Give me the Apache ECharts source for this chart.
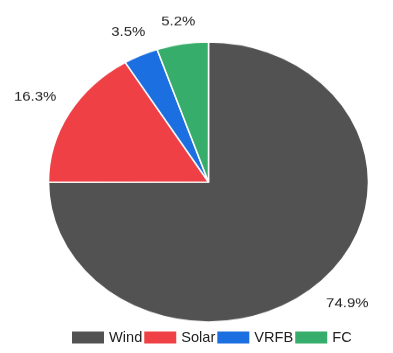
<!DOCTYPE html>
<html>
<head>
<meta charset="utf-8">
<script src="https://cdn.jsdelivr.net/npm/echarts@6/dist/echarts.min.js"></script>
<style>
	html, body { margin: 0; padding: 0; background: #ffffff; }
	#wrap { position: relative; width: 393px; height: 353px; overflow: hidden; }
	/* pie drawn round, then squashed to the ellipse of the picture */
	#pie { position: absolute; left: 0; top: 0; width: 393px; height: 403.43px;
		transform: scaleY(0.875); transform-origin: 0 0; }
	#legend { position: absolute; left: 0; top: 0; width: 393px; height: 353px; }
</style>
</head>
<body>
<div id="wrap">
	<div id="pie"></div>
	<div id="legend"></div>
</div>
<script>
	// data
	var names = ['Wind', 'Solar', 'VRFB', 'FC'];
	var shares = [74.9, 16.3, 3.5, 5.2];
	var colors = ['#525252', '#ef4145', '#1b6fe0', '#37ad6b'];

	var pieData = names.map(function (n, i) {
		return { name: n, value: shares[i] };
	});

	var cx = 208.5, cy = 208;

	var pieChart = echarts.init(document.getElementById('pie'));
	pieChart.setOption({
		animation: false,
		color: colors,
		series: [{
			type: 'pie',
			silent: true,
			center: [cx, cy],
			radius: [0, 160],
			startAngle: 90,
			label: { show: false },
			labelLine: { show: false },
			itemStyle: { borderColor: '#ffffff', borderWidth: 1.5 },
			data: pieData
		}, {
			// invisible ring, only carries the percent labels
			type: 'pie',
			silent: true,
			center: [cx, cy],
			radius: [165, 185],
			startAngle: 90,
			avoidLabelOverlap: false,
			itemStyle: { color: 'rgba(0,0,0,0)' },
			label: {
				show: true,
				position: 'inside',
				rotate: 0,
				color: '#222222',
				fontFamily: 'Liberation Sans',
				fontSize: 15,
				formatter: function (p) { return p.value.toFixed(1) + '%'; }
			},
			// push each label outward so its box sits just outside the ring
			labelLayout: function (p) {
				var r = p.labelRect;
				var ux = r.x + r.width / 2 - cx, uy = r.y + r.height / 2 - cy;
				var len = Math.sqrt(ux * ux + uy * uy);
				ux /= len; uy /= len;
				var push = Math.abs(ux) * r.width / 2 + Math.abs(uy) * r.height * 0.3;
				return { dx: ux * push, dy: uy * push };
			},
			labelLine: { show: false },
			data: pieData
		}]
	});

	var legendChart = echarts.init(document.getElementById('legend'));
	legendChart.setOption({
		animation: false,
		color: colors,
		legend: {
			data: names,
			left: 67,
			top: 325,
			icon: 'rect',
			itemWidth: 32,
			itemHeight: 12,
			itemGap: 2,
			textStyle: { color: '#222222', fontFamily: 'Liberation Sans', fontSize: 14.6 }
		},
		series: [{
			type: 'pie',
			radius: 0,
			silent: true,
			label: { show: false },
			data: pieData
		}]
	});
</script>
</body>
</html>
